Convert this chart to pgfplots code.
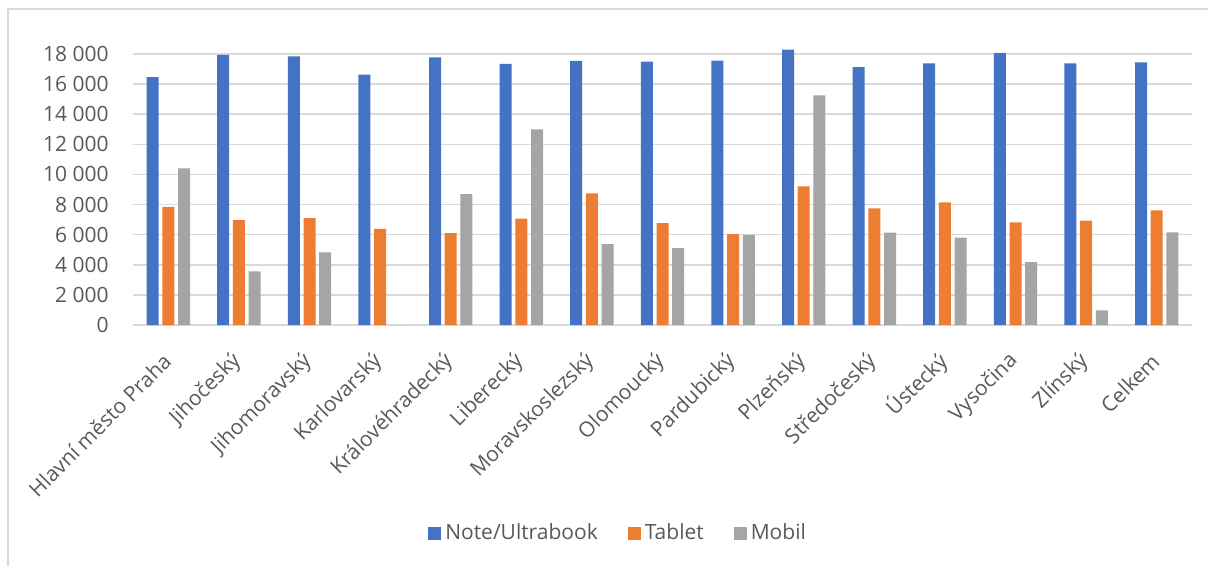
\documentclass[border=0pt]{standalone}
\usepackage{fontspec}
\setmainfont{Open Sans}
\usepackage{pgfplots}
\pgfplotsset{compat=1.18}
\definecolor{note}{HTML}{4472C4}
\definecolor{tablet}{HTML}{ED7D31}
\definecolor{mobil}{HTML}{A5A5A5}
\definecolor{gridc}{HTML}{D9D9D9}
\definecolor{txt}{HTML}{595959}

\begin{document}
\fontsize{10.5bp}{12.6bp}\selectfont
\begin{tikzpicture}[x=1bp,y=1bp]
\path[use as bounding box] (0,0) rectangle (604,283);
\draw[gridc, line width=0.7bp] (4,0) -- (4,278.5) -- (604,278.5);
\begin{axis}[
    at={(66.5bp,120.5bp)}, anchor=south west,
    scale only axis,
    width=529.5bp, height=135.5bp,
    ymin=0, ymax=18000,
    xmin=-0.5, xmax=14.5,
    enlargelimits=false,
    clip=false,
    ybar=1.85bp, bar width=6bp,
    axis line style={draw=none},
    tick style={draw=none},
    ymajorgrids=true,
    grid style={gridc, line width=0.75bp},
    ytick={0,2000,...,18000},
    scaled y ticks=false,
    yticklabel style={/pgf/number format/fixed, /pgf/number format/1000 sep={\ },
      /pgf/number format/assume math mode=true,
      anchor=east, inner sep=0pt, xshift=-12bp, text=txt},
    xtick={0,...,14},
    xticklabels={Hlavní město Praha, Jihočeský, Jihomoravský, Karlovarský,
      Královéhradecký, Liberecký, Moravskoslezský, Olomoucký, Pardubický,
      Plzeňský, Středočeský, Ústecký, Vysočina, Zlínský, Celkem},
    xticklabel style={xshift=-0.5bp, yshift=-12bp, rotate=45, anchor=east, inner sep=0pt, text=txt},
    legend style={at={(0.459,-0.7675)}, anchor=center, draw=none, fill=none,
      text=txt, legend columns=-1,
      /tikz/every even column/.append style={column sep=13bp}},
    legend image code/.code={\draw[#1,/tikz/.cd,draw=none] (0bp,-3.25bp) rectangle (6.5bp,3.25bp);},
]
\addplot[fill=note, draw=none] coordinates {
    (0,16470)(1,17940)(2,17850)(3,16630)(4,17780)(5,17340)(6,17540)(7,17490)
    (8,17560)(9,18290)(10,17120)(11,17380)(12,18070)(13,17380)(14,17450)
};
\addplot[fill=tablet, draw=none] coordinates {
    (0,7850)(1,6960)(2,7100)(3,6390)(4,6100)(5,7070)(6,8740)(7,6760)
    (8,6030)(9,9200)(10,7740)(11,8140)(12,6810)(13,6940)(14,7610)
};
\addplot[fill=mobil, draw=none] coordinates {
    (0,10400)(1,3570)(2,4830)(3,0)(4,8690)(5,12990)(6,5370)(7,5100)
    (8,5990)(9,15250)(10,6140)(11,5810)(12,4170)(13,980)(14,6160)
};
\legend{Note/Ultrabook, Tablet, Mobil}
\end{axis}
\end{tikzpicture}
\end{document}
